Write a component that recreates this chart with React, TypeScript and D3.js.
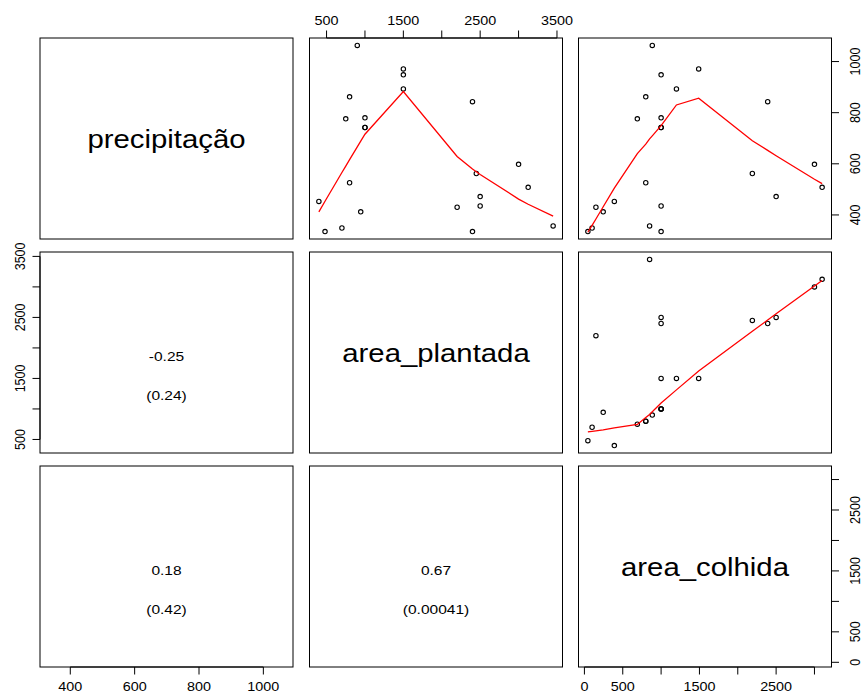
import React, { useEffect, useRef } from "react";
import * as d3 from "d3";

// one entry per year
const precipitacao = [1063, 971, 948, 893, 862, 843, 776, 780, 742, 742, 598, 562, 526, 508, 472, 453, 435, 430, 412, 357, 349, 335, 335];
const areaPlantada = [900, 1500, 1500, 1500, 800, 2400, 750, 1000, 1000, 1000, 3000, 2450, 800, 3125, 2500, 400, 2500, 2200, 945, 3450, 700, 480, 2400];
const areaColhida = [885, 1490, 1000, 1200, 800, 2390, 690, 1000, 1000, 1000, 3000, 2190, 800, 3100, 2500, 390, 1000, 150, 245, 850, 100, 45, 1000];

const varNames = ["precipitação", "area_plantada", "area_colhida"];

const precipTicks = [400, 600, 800, 1000];
const precipLabels = [400, 600, 800, 1000];
const plantadaTicks = [500, 1000, 1500, 2000, 2500, 3000, 3500];
const plantadaLabels = [500, 1500, 2500, 3500];
const colhidaTicks = [0, 500, 1000, 1500, 2000, 2500, 3000];
const colhidaLabels = [0, 500, 1500, 2500];

// lower panels: [row, col], correlation and p-value
const corPairs = [[1, 0], [2, 0], [2, 1]];
const corLabels = ["-0.25", "0.18", "0.67"];
const pLabels = ["(0.24)", "(0.42)", "(0.00041)"];

const W = 864;
const H = 695;
const colX = [40, 309.5, 578.5];
const rowY = [38, 252, 466];
const PW = 253;
const PH = 201;
const SX = 1.15; // the picture is a bit stretched sideways
const TICK = 7.5;
const FONT = "'Liberation Sans', Arial, Helvetica, sans-serif";

// port of R's clowess (f = 2/3, iter = 3)
function lowess(xIn: number[], yIn: number[], f = 2 / 3, iter = 3): [number, number][] {
  const idx = d3.range(xIn.length).sort((a, b) => xIn[a] - xIn[b] || a - b);
  const x = idx.map((i) => xIn[i]);
  const y = idx.map((i) => yIn[i]);
  const n = x.length;
  const ys = new Array(n).fill(0);
  const rw = new Array(n).fill(1);
  const res = new Array(n).fill(0);
  const range = x[n - 1] - x[0];
  const delta = 0.01 * range;
  const ns = Math.max(2, Math.min(n, Math.floor(f * n + 1e-7)));

  const lowest = (xs: number, nleft: number, nright: number, userw: boolean): number | null => {
    const h = Math.max(xs - x[nleft], x[nright] - xs);
    const h9 = 0.999 * h;
    const h1 = 0.001 * h;
    const w = new Array(n).fill(0);
    let a = 0;
    let j = nleft;
    while (j < n) {
      w[j] = 0;
      const r = Math.abs(x[j] - xs);
      if (r <= h9) {
        w[j] = r <= h1 ? 1 : Math.pow(1 - Math.pow(r / h, 3), 3);
        if (userw) w[j] *= rw[j];
        a += w[j];
      } else if (x[j] > xs) break;
      j++;
    }
    const nrt = j - 1;
    if (a <= 0) return null;
    for (let k = nleft; k <= nrt; k++) w[k] /= a;
    if (h > 0) {
      let aa = 0;
      for (let k = nleft; k <= nrt; k++) aa += w[k] * x[k];
      let b = xs - aa;
      let c = 0;
      for (let k = nleft; k <= nrt; k++) c += w[k] * (x[k] - aa) * (x[k] - aa);
      if (Math.sqrt(c) > 0.001 * range) {
        b /= c;
        for (let k = nleft; k <= nrt; k++) w[k] *= b * (x[k] - aa) + 1;
      }
    }
    let out = 0;
    for (let k = nleft; k <= nrt; k++) out += w[k] * y[k];
    return out;
  };

  for (let it = 1; it <= iter + 1; it++) {
    let nleft = 0;
    let nright = ns - 1;
    let last = -1;
    let i = 0;
    for (;;) {
      if (nright < n - 1) {
        const d1 = x[i] - x[nleft];
        const d2 = x[nright + 1] - x[i];
        if (d1 > d2) {
          nleft++;
          nright++;
          continue;
        }
      }
      const v = lowest(x[i], nleft, nright, it > 1);
      ys[i] = v === null ? y[i] : v;
      if (last < i - 1) {
        const denom = x[i] - x[last];
        for (let j = last + 1; j < i; j++) {
          const alpha = (x[j] - x[last]) / denom;
          ys[j] = alpha * ys[i] + (1 - alpha) * ys[last];
        }
      }
      last = i;
      const cut = x[last] + delta;
      for (i = last + 1; i < n; i++) {
        if (x[i] > cut) break;
        if (x[i] === x[last]) {
          ys[i] = ys[last];
          last = i;
        }
      }
      i = Math.max(last + 1, i - 1);
      if (last >= n - 1) break;
    }
    for (let k = 0; k < n; k++) res[k] = y[k] - ys[k];
    if (it > iter) break;
    const sc = d3.sum(res, (r) => Math.abs(r)) / n;
    const abs = res.map((r) => Math.abs(r));
    const sorted = abs.slice().sort((a, b) => a - b);
    const m1 = Math.floor(n / 2);
    const cmad = n % 2 === 0 ? 3 * (sorted[m1] + sorted[n - m1 - 1]) : 6 * sorted[m1];
    if (cmad < 1e-7 * sc) break;
    const c9 = 0.999 * cmad;
    const c1 = 0.001 * cmad;
    for (let k = 0; k < n; k++) {
      const r = abs[k];
      rw[k] = r <= c1 ? 1 : r > c9 ? 0 : Math.pow(1 - Math.pow(r / cmad, 2), 2);
    }
  }
  return x.map((xv, k) => [xv, ys[k]] as [number, number]);
}

const padded = (v: number[]) => {
  const [a, b] = d3.extent(v) as [number, number];
  const p = 0.04 * (b - a);
  return [a - p, b + p];
};

const App = () => {
  const ref = useRef<SVGSVGElement>(null);

  useEffect(() => {
    const svg = d3.select(ref.current);
    svg.selectAll("*").remove();

    const vars = [precipitacao, areaPlantada, areaColhida];
    const xs = vars.map((v, i) =>
      d3.scaleLinear().domain(padded(v)).range([colX[i], colX[i] + PW])
    );
    const ys = vars.map((v, i) =>
      d3.scaleLinear().domain(padded(v)).range([rowY[i] + PH, rowY[i]])
    );

    const g = svg.append("g").attr("font-family", FONT).attr("fill", "#000");

    // diagonal labels
    varNames.forEach((name, i) => {
      g.append("text")
        .attr("transform", `translate(${colX[i] + PW / 2},${rowY[i] + PH / 2 + 9}) scale(${SX},1)`)
        .attr("text-anchor", "middle")
        .attr("font-size", 25.5)
        .text(name);
    });

    // upper panels: points + lowess
    const line = d3.line();
    for (let r = 0; r < 3; r++) {
      for (let c = r + 1; c < 3; c++) {
        const xv = vars[c];
        const yv = vars[r];
        const pg = g.append("g");
        pg.selectAll("circle")
          .data(xv.map((d, k) => [d, yv[k]]))
          .join("circle")
          .attr("cx", (d) => xs[c](d[0]))
          .attr("cy", (d) => ys[r](d[1]))
          .attr("r", 2.2)
          .attr("fill", "none")
          .attr("stroke", "#000")
          .attr("stroke-width", 1.1);
        const sm = lowess(xv, yv).map(([a, b]) => [xs[c](a), ys[r](b)] as [number, number]);
        pg.append("path")
          .attr("d", line(sm))
          .attr("fill", "none")
          .attr("stroke", "#ff0000")
          .attr("stroke-width", 1.3);
      }
    }

    // lower panels: correlation text
    corPairs.forEach(([r, c], k) => {
      const cx = colX[c] + PW / 2;
      const cy = rowY[r] + PH / 2;
      g.append("text")
        .attr("transform", `translate(${cx},${cy + 8}) scale(${SX},1)`)
        .attr("text-anchor", "middle")
        .attr("font-size", 13.5)
        .text(corLabels[k]);
      g.append("text")
        .attr("transform", `translate(${cx},${cy + 47}) scale(${SX},1)`)
        .attr("text-anchor", "middle")
        .attr("font-size", 13.5)
        .text(pLabels[k]);
    });

    // panel borders
    for (let r = 0; r < 3; r++) {
      for (let c = 0; c < 3; c++) {
        g.append("rect")
          .attr("x", colX[c])
          .attr("y", rowY[r])
          .attr("width", PW)
          .attr("height", PH)
          .attr("fill", "none")
          .attr("stroke", "#000")
          .attr("stroke-width", 1);
      }
    }

    // axes, R style: line from first to last tick, sparse labels
    const axis = (
      side: "top" | "bottom" | "left" | "right",
      scale: d3.ScaleLinear<number, number>,
      ticks: number[],
      labels: number[],
      at: number
    ) => {
      const ag = g.append("g").attr("stroke", "#000").attr("stroke-width", 1);
      const horiz = side === "top" || side === "bottom";
      const dir = side === "top" || side === "left" ? -1 : 1;
      const p0 = scale(ticks[0]);
      const p1 = scale(ticks[ticks.length - 1]);
      if (horiz) {
        ag.append("line").attr("x1", p0).attr("x2", p1).attr("y1", at).attr("y2", at);
      } else {
        ag.append("line").attr("y1", p0).attr("y2", p1).attr("x1", at).attr("x2", at);
      }
      ag.selectAll("line.tick")
        .data(ticks)
        .join("line")
        .attr("class", "tick")
        .attr("x1", (d) => (horiz ? scale(d) : at))
        .attr("x2", (d) => (horiz ? scale(d) : at + dir * TICK))
        .attr("y1", (d) => (horiz ? at : scale(d)))
        .attr("y2", (d) => (horiz ? at + dir * TICK : scale(d)));

      g.append("g")
        .selectAll("text")
        .data(labels)
        .join("text")
        .attr("font-size", 12.5)
        .attr("text-anchor", "middle")
        .attr("transform", (d) => {
          const p = scale(d);
          if (side === "top") return `translate(${p},25) scale(${SX},1)`;
          if (side === "bottom") return `translate(${p},691) scale(${SX},1)`;
          if (side === "left") return `translate(25,${p}) scale(${SX},1) rotate(-90)`;
          return `translate(860,${p}) scale(${SX},1) rotate(-90)`;
        })
        .text((d) => String(d));
    };

    axis("top", xs[1], plantadaTicks, plantadaLabels, rowY[0]);
    axis("bottom", xs[0], precipTicks, precipLabels, rowY[2] + PH);
    axis("bottom", xs[2], colhidaTicks, colhidaLabels, rowY[2] + PH);
    axis("left", ys[1], plantadaTicks, plantadaLabels, colX[0]);
    axis("right", ys[0], precipTicks, precipLabels, colX[2] + PW);
    axis("right", ys[2], colhidaTicks, colhidaLabels, colX[2] + PW);
  }, []);

  return (
    <svg
      ref={ref}
      width={W}
      height={H}
      style={{ position: "absolute", left: 0, top: 0, background: "#fff", display: "block" }}
    ></svg>
  );
};

export default App;
